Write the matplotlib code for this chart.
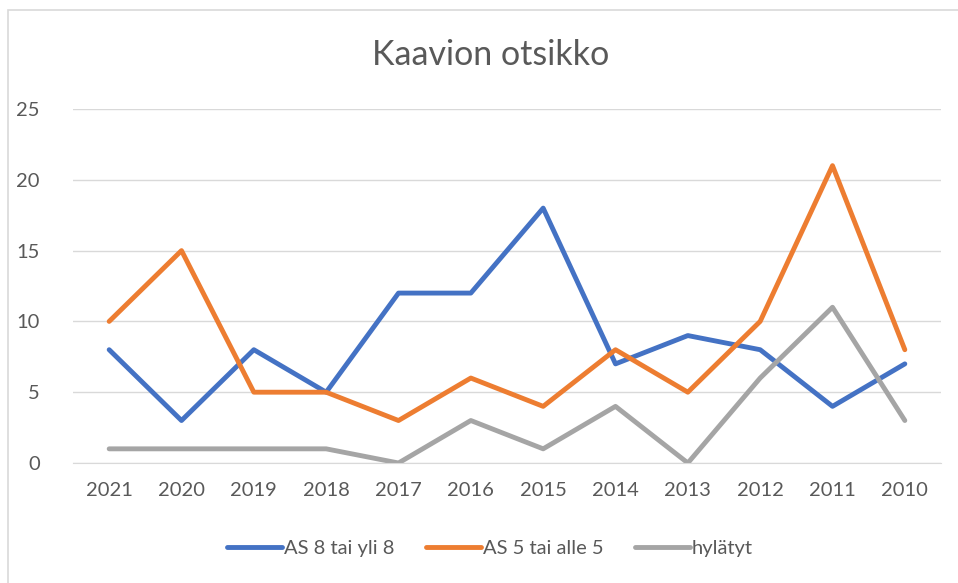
import matplotlib.pyplot as plt
from matplotlib.patches import Rectangle

plt.rcParams['font.family'] = ['Lato', 'DejaVu Sans']

# data
years = ["2021", "2020", "2019", "2018", "2017", "2016", "2015", "2014", "2013", "2012", "2011", "2010"]
as8_or_more = [8, 3, 8, 5, 12, 12, 18, 7, 9, 8, 4, 7]
as5_or_less = [10, 15, 5, 5, 3, 6, 4, 8, 5, 10, 21, 8]
rejected = [1, 1, 1, 1, 0, 3, 1, 4, 0, 6, 11, 3]

series_names = ["AS 8 tai yli 8", "AS 5 tai alle 5", "hylätyt"]
colors = ["#4472C4", "#ED7D31", "#A5A5A5"]
text_col = "#595959"
grid_col = "#D9D9D9"

W, H = 958, 583
fig = plt.figure(figsize=(W / 100, H / 100), dpi=100)

# chart frame (cut off at the right and bottom in the reference)
fig.patches.append(Rectangle((8 / W, -0.1), 1.2, 1 - 10 / H + 0.1, transform=fig.transFigure,
                             fill=False, edgecolor="#D9D9D9", linewidth=1.2))

ax = fig.add_axes([73 / W, 1 - 463 / H, (941 - 73) / W, (463 - 109) / H])

x = list(range(len(years)))
for vals, name, col in zip([as8_or_more, as5_or_less, rejected], series_names, colors):
    ax.plot(x, vals, color=col, linewidth=3.5, label=name,
            solid_joinstyle="round", solid_capstyle="round")

ax.set_xlim(-0.5, len(years) - 0.5)
ax.set_ylim(0, 25)
ax.set_yticks([0, 5, 10, 15, 20, 25])
ax.set_xticks(x)
ax.set_xticklabels(years)
ax.yaxis.grid(True, color=grid_col, linewidth=1)
ax.set_axisbelow(True)
for s in ["top", "right", "left"]:
    ax.spines[s].set_visible(False)
ax.spines["bottom"].set_color(grid_col)
ax.tick_params(axis="both", length=0, labelsize=14.5, labelcolor=text_col)
ax.tick_params(axis="y", pad=24)
ax.tick_params(axis="x", pad=14)

fig.text(491 / W, 1 - 55 / H, "Kaavion otsikko", ha="center", va="center",
         fontsize=24.5, color=text_col)

fig.legend(loc="center", bbox_to_anchor=(490 / W, 1 - 548 / H), ncol=3, frameon=False,
           fontsize=14.5, labelcolor=text_col, handlelength=2.7, handletextpad=0.1,
           columnspacing=1.6)

fig.savefig("out.png", dpi=100, facecolor="white")
